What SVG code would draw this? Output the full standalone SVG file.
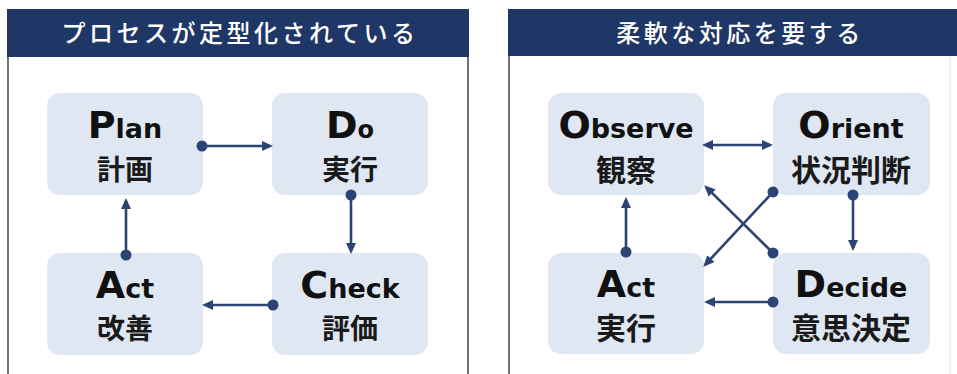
<svg xmlns="http://www.w3.org/2000/svg" width="957" height="374" viewBox="0 0 957 374">
  <style>
    .hdr { fill: #1f3766; }
    .hdrtxt { font-family: "Noto Sans CJK JP", "Noto Sans", sans-serif; font-size: 24px; font-weight: 500; fill: #ffffff; letter-spacing: 3.5px; text-anchor: middle; }
    .box { fill: #dfe7f2; }
    .en { font-family: "DejaVu Sans", "Liberation Sans", sans-serif; font-weight: bold; fill: #111111; text-anchor: middle; }
    .big { font-size: 38px; }
    .sm { font-size: 27px; }
    .ja { font-family: "Noto Sans CJK JP", "Noto Sans", sans-serif; font-weight: bold; fill: #1a1a1a; text-anchor: middle; font-size: 28px; }
    .jar { font-size: 30px; }
    .conn { fill: none; stroke: #2c4475; stroke-width: 2.6; }
    .arr { marker-end: url(#head); marker-start: url(#dot); }
    .dbl { marker-end: url(#head); marker-start: url(#headS); }
  </style>
  <defs>
    <marker id="head" markerUnits="userSpaceOnUse" markerWidth="12" markerHeight="12" viewBox="0 0 12 12" refX="8" refY="6" orient="auto">
      <path d="M0,1 L11,6 L0,11 z" fill="#2c4475"/>
    </marker>
    <marker id="headS" markerUnits="userSpaceOnUse" markerWidth="12" markerHeight="12" viewBox="0 0 12 12" refX="8" refY="6" orient="auto-start-reverse">
      <path d="M0,1 L11,6 L0,11 z" fill="#2c4475"/>
    </marker>
    <marker id="dot" markerUnits="userSpaceOnUse" markerWidth="12" markerHeight="12" viewBox="0 0 12 12" refX="6" refY="6" orient="auto">
      <circle cx="6" cy="6" r="5.5" fill="#2c4475"/>
    </marker>
  </defs>

  <rect x="0" y="0" width="957" height="374" fill="#ffffff"/>

  <g id="panel-left">
    <rect x="8" y="10" width="460" height="380" fill="#ffffff" stroke="#6a7280" stroke-width="2"/>
    <rect class="hdr" x="7" y="9" width="462" height="48"/>
    <text class="hdrtxt" x="240" y="42">プロセスが定型化されている</text>
  </g>

  <g id="panel-right">
    <line x1="509" y1="10" x2="509" y2="374" stroke="#6a7280" stroke-width="2"/>
    <line x1="950" y1="56" x2="950" y2="374" stroke="#e6e9ee" stroke-width="1.5"/>
    <rect class="hdr" x="508" y="9" width="449" height="47"/>
    <text class="hdrtxt" x="740" y="42">柔軟な対応を要する</text>
  </g>

  <g id="node-plan">
    <rect class="box" x="47" y="93" width="156" height="102" rx="13"/>
    <text class="en" x="125" y="138"><tspan class="big">P</tspan><tspan class="sm">lan</tspan></text>
    <text class="ja" x="125" y="180">計画</text>
  </g>
  <g id="node-do">
    <rect class="box" x="272" y="93" width="156" height="102" rx="13"/>
    <text class="en" x="350" y="138"><tspan class="big">D</tspan><tspan font-size="24">o</tspan></text>
    <text class="ja" x="350" y="180">実行</text>
  </g>
  <g id="node-act-left">
    <rect class="box" x="47" y="253" width="156" height="102" rx="13"/>
    <text class="en" x="125" y="298"><tspan class="big">A</tspan><tspan class="sm">ct</tspan></text>
    <text class="ja" x="125" y="339">改善</text>
  </g>
  <g id="node-check">
    <rect class="box" x="272" y="253" width="156" height="102" rx="13"/>
    <text class="en" x="350" y="298"><tspan class="big">C</tspan><tspan class="sm">heck</tspan></text>
    <text class="ja" x="350" y="339">評価</text>
  </g>

  <g id="node-observe">
    <rect class="box" x="548" y="93" width="156" height="102" rx="13"/>
    <text class="en" x="626" y="138"><tspan class="big">O</tspan><tspan class="sm">bserve</tspan></text>
    <text class="ja jar" x="626" y="181">観察</text>
  </g>
  <g id="node-orient">
    <rect class="box" x="773" y="93" width="157" height="102" rx="13"/>
    <text class="en" x="851" y="138"><tspan class="big">O</tspan><tspan class="sm">rient</tspan></text>
    <text class="ja jar" x="851" y="181">状況判断</text>
  </g>
  <g id="node-act-right">
    <rect class="box" x="548" y="253" width="156" height="101" rx="13"/>
    <text class="en" x="626" y="297"><tspan class="big">A</tspan><tspan class="sm">ct</tspan></text>
    <text class="ja jar" x="626" y="339">実行</text>
  </g>
  <g id="node-decide">
    <rect class="box" x="773" y="253" width="157" height="101" rx="13"/>
    <text class="en" x="851" y="297"><tspan class="big">D</tspan><tspan class="sm">ecide</tspan></text>
    <text class="ja jar" x="851" y="339">意思決定</text>
  </g>

  <g id="connectors">
    <path class="conn arr" d="M202,146 H270"/>
    <path class="conn arr" d="M351,195 V251"/>
    <path class="conn arr" d="M273,305 H205"/>
    <path class="conn arr" d="M126,255 V201"/>

    <path class="conn dbl" d="M705,145 H770"/>
    <path class="conn arr" d="M853,195 V248"/>
    <path class="conn arr" d="M773,302 H707"/>
    <path class="conn arr" d="M626,252 V200"/>
    <path class="conn arr" d="M773,192 L705.4,264.5"/>
    <path class="conn arr" d="M773,253 L706.4,187.4"/>
  </g>
</svg>
